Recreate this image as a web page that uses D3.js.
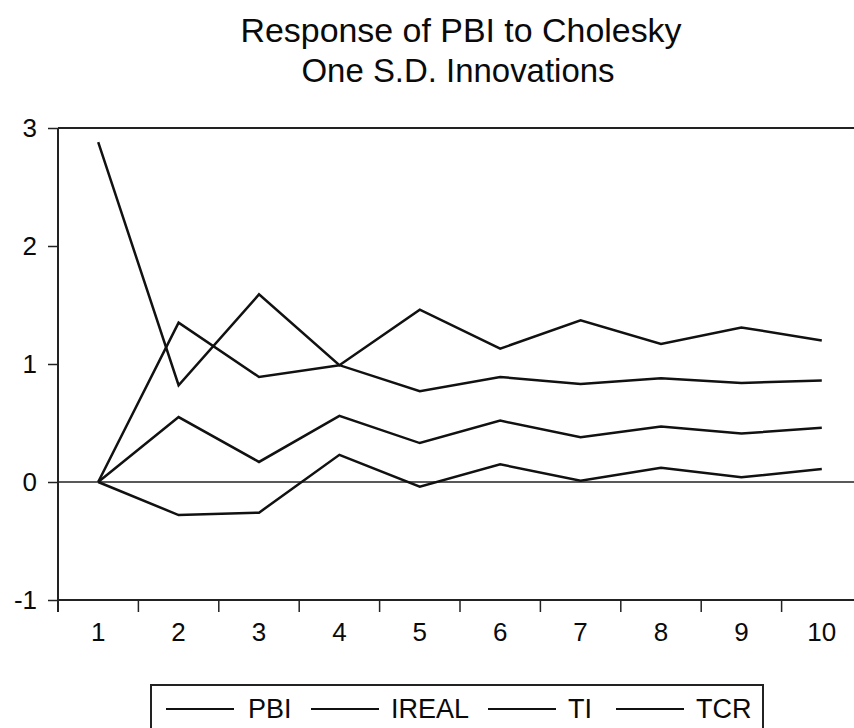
<!DOCTYPE html>
<html>
<head>
<meta charset="utf-8">
<script src="https://cdn.jsdelivr.net/npm/d3@7"></script>
<style>
  html, body { margin: 0; padding: 0; background: #fff; }
  svg { display: block; }
  text { font-family: "Liberation Sans", Arial, sans-serif; fill: #0a0a0a; }
</style>
</head>
<body>
<svg id="chart" width="854" height="728"></svg>
<script>
const periods = [1, 2, 3, 4, 5, 6, 7, 8, 9, 10];
const seriesNames = ["PBI", "IREAL", "TI", "TCR"];
const pbi   = [2.88, 0.82, 1.59, 0.99, 1.46, 1.13, 1.37, 1.17, 1.31, 1.20];
const ireal = [0.00, 1.35, 0.89, 0.99, 0.77, 0.89, 0.83, 0.88, 0.84, 0.86];
const ti    = [0.00, 0.55, 0.17, 0.56, 0.33, 0.52, 0.38, 0.47, 0.41, 0.46];
const tcr   = [0.00, -0.28, -0.26, 0.23, -0.04, 0.15, 0.01, 0.12, 0.04, 0.11];
const yTicks = [-1, 0, 1, 2, 3];
const titleLines = ["Response of PBI to Cholesky", "One S.D. Innovations"];

const seriesValues = [pbi, ireal, ti, tcr];
const svg = d3.select("#chart");

const x = d3.scaleLinear().domain([0.5, 10.5]).range([58, 862]);
const y = d3.scaleLinear().domain([-1, 3]).range([600, 128]);

// Title
svg.append("text").attr("x", 461).attr("y", 42).attr("text-anchor", "middle")
  .attr("font-size", 33).attr("textLength", 441).attr("lengthAdjust", "spacingAndGlyphs")
  .text(titleLines[0]);
svg.append("text").attr("x", 458).attr("y", 82).attr("text-anchor", "middle")
  .attr("font-size", 33).attr("textLength", 313).attr("lengthAdjust", "spacingAndGlyphs")
  .text(titleLines[1]);

// Frame (top + right)
svg.append("line").attr("x1", x(0.5)).attr("x2", x(10.5)).attr("y1", y(3)).attr("y2", y(3))
  .attr("stroke", "#222").attr("stroke-width", 2);
svg.append("line").attr("x1", x(10.5)).attr("x2", x(10.5)).attr("y1", y(3)).attr("y2", y(-1))
  .attr("stroke", "#222").attr("stroke-width", 2);

// Zero line
svg.append("line").attr("x1", x(0.5)).attr("x2", x(10.5)).attr("y1", y(0)).attr("y2", y(0))
  .attr("stroke", "#222").attr("stroke-width", 1.5);

// Y axis
const yAxis = d3.axisLeft(y).tickValues(yTicks).tickSize(10).tickPadding(11).tickFormat(d => String(d));
const gy = svg.append("g").attr("transform", `translate(${x(0.5)},0)`).call(yAxis);
gy.select(".domain").remove();
gy.append("line").attr("x1", 0).attr("x2", 0).attr("y1", y(3)).attr("y2", y(-1) + 12)
  .attr("stroke", "#222").attr("stroke-width", 2);
gy.selectAll(".tick line").attr("stroke", "#222").attr("stroke-width", 1.5);
gy.selectAll(".tick text").attr("font-size", 26).attr("fill", "#0a0a0a")
  .attr("font-family", "Liberation Sans, Arial, sans-serif");

// X axis: ticks at boundaries, labels at periods
const boundaries = d3.range(0.5, 10.6, 1);
const gx = svg.append("g").attr("transform", `translate(0,${y(-1)})`);
gx.append("line").attr("x1", x(0.5)).attr("x2", x(10.5)).attr("y1", 0).attr("y2", 0)
  .attr("stroke", "#222").attr("stroke-width", 2);
gx.selectAll(".xt").data(boundaries).join("line").attr("class", "xt")
  .attr("x1", d => x(d)).attr("x2", d => x(d)).attr("y1", 0).attr("y2", 12)
  .attr("stroke", "#222").attr("stroke-width", 1.5);
gx.selectAll(".xl").data(periods).join("text").attr("class", "xl")
  .attr("x", d => x(d)).attr("y", 41).attr("text-anchor", "middle")
  .attr("font-size", 26).text(d => d);

// Lines
const line = d3.line().x((d, i) => x(periods[i])).y(d => y(d));
svg.selectAll(".series").data(seriesValues).join("path").attr("class", "series")
  .attr("d", d => line(d)).attr("fill", "none").attr("stroke", "#111")
  .attr("stroke-width", 2.5).attr("stroke-linejoin", "miter");

// Legend
const legend = svg.append("g");
legend.append("rect").attr("x", 151).attr("y", 685).attr("width", 612).attr("height", 60)
  .attr("fill", "none").attr("stroke", "#222").attr("stroke-width", 2);
const legendLineStarts = [166, 311, 488, 616];
const legendTextStarts = [248, 391, 568, 696];
legend.selectAll(".ll").data(seriesNames).join("line").attr("class", "ll")
  .attr("x1", (d, i) => legendLineStarts[i]).attr("x2", (d, i) => legendLineStarts[i] + 68)
  .attr("y1", 709).attr("y2", 709).attr("stroke", "#111").attr("stroke-width", 2);
legend.selectAll(".lt").data(seriesNames).join("text").attr("class", "lt")
  .attr("x", (d, i) => legendTextStarts[i]).attr("y", 718)
  .attr("font-size", 27).text(d => d);
</script>
</body>
</html>
